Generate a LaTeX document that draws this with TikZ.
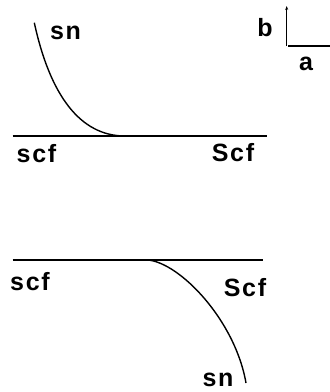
\documentclass[tikz,border=0pt]{standalone}
\usepackage{fontspec}
\newfontfamily\lblfont[LetterSpace=7,UprightFont=*-Bold]{Liberation Sans}
\usetikzlibrary{arrows.meta}
\tikzset{
  lbl/.style={font=\lblfont\fontsize{25}{27}\selectfont, inner sep=0pt, anchor=base},
  ln/.style={line width=1.1pt},
  crv/.style={line width=1.4pt},
}
\begin{document}
\begin{tikzpicture}[x=1pt,y=-1pt]
\useasboundingbox (0,0) rectangle (330,392);
% top panel
\coordinate (tl) at (12.7,136);
\coordinate (tr) at (266.7,136);
\coordinate (cs) at (34.3,22.7);
\coordinate (ce) at (125,136);
\draw[ln] (tl) -- (tr);
\draw[crv] (cs) .. controls (50,95) and (80,136) .. (ce);
\node[lbl] (sn1) at (65.5,39) {sn};
\node[lbl] (scf1) at (36.5,162) {scf};
\node[lbl] (Scf1) at (233,161.3) {Scf};
% axes
\coordinate (o) at (286.7,46);
\coordinate (bt) at (286.7,6);
\coordinate (ar) at (330,46);
\draw[ln,-{Stealth[length=4pt,width=3pt]}] (o) -- (bt);
\draw[ln] (288,46) -- (ar);
\node[lbl] (b) at (265,36.7) {b};
\node[lbl] (a) at (306,70) {a};
% bottom panel
\coordinate (bl) at (12.7,260);
\coordinate (br) at (263.3,260);
\coordinate (ds) at (148,260);
\coordinate (de) at (246,383);
\draw[ln] (bl) -- (br);
\draw[crv] (ds) .. controls (180,263) and (235,320) .. (de);
\node[lbl] (scf2) at (30,290) {scf};
\node[lbl] (Scf2) at (245,296.7) {Scf};
\node[lbl] (sn2) at (218,386) {sn};
\end{tikzpicture}
\end{document}
